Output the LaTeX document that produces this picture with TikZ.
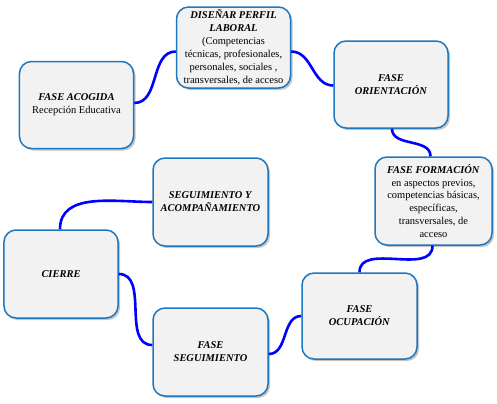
\documentclass[tikz,border=0pt]{standalone}
\usepackage{fontspec}
\setmainfont{Liberation Serif}
\usetikzlibrary{shadows}
\definecolor{boxblue}{RGB}{31,119,190}
\definecolor{boxgray}{RGB}{242,242,242}
\newcommand\etapa[1]{\textbf{\textit{#1}}}
\begin{document}
\begin{tikzpicture}[x=1bp,y=-1bp,
phase/.style={draw=boxblue,line width=1.5bp,fill=boxgray,rounded corners=12bp,
  minimum width=114bp,minimum height=87bp,inner sep=1bp,align=center,
  font=\fontsize{10.5}{13}\selectfont,
  drop shadow={shadow xshift=2bp,shadow yshift=-2bp,fill=black!45,opacity=0.5}},
link/.style={draw={rgb,255:red,0;green,0;blue,255},line width=2.6bp},
]
\useasboundingbox (0,0) rectangle (497,403);
\node[phase] (acogida) at (76.5,105) {\etapa{FASE ACOGIDA}\\Recepción Educativa};
\node[phase,minimum height=81bp] (perfil) at (233.5,47.5)
  {\etapa{DISEÑAR PERFIL}\\\etapa{LABORAL}\\(Competencias\\técnicas, profesionales,\\personales, sociales ,\\transversales, de acceso};
\node[phase] (orientacion) at (391,84.5) {\etapa{FASE}\\\etapa{ORIENTACIÓN}};
\node[phase,minimum width=117bp,minimum height=88bp] (formacion) at (433.5,201)
  {\etapa{FASE FORMACIÓN}\\en aspectos previos,\\competencias básicas,\\específicas,\\transversales, de\\acceso};
\node[phase,minimum width=115bp,minimum height=88bp] (acompana) at (210.5,202) {\etapa{SEGUIMIENTO Y}\\\etapa{ACOMPAÑAMIENTO}};
\node[phase,minimum height=88bp] (cierre) at (61,274) {\etapa{CIERRE}};
\node[phase,minimum width=115bp,minimum height=88bp] (seguimiento) at (210.5,352) {\etapa{FASE}\\\etapa{SEGUIMIENTO}};
\node[phase,minimum width=115bp,minimum height=86bp] (ocupacion) at (359.5,316) {\etapa{FASE}\\\etapa{OCUPACIÓN}};
\path[link]
  ([yshift=2bp]acogida.east) to[out=0,in=180] ([yshift=-4bp]perfil.west)
  ([yshift=-4bp]perfil.east) to[out=0,in=180] ([yshift=-1bp]orientacion.west)
  ([xshift=1bp]orientacion.south) to[out=-90,in=90] ([xshift=-3bp]formacion.north)
  ([xshift=-1bp]formacion.south) to[out=-90,in=90] (ocupacion.north)
  (ocupacion.west) to[out=180,in=0] ([yshift=-2bp]seguimiento.east)
  (cierre.east) to[out=0,in=180] ([yshift=7bp]seguimiento.west)
  ([xshift=-1bp]cierre.north) to[out=90,in=180] (acompana.west);
\end{tikzpicture}
\end{document}
